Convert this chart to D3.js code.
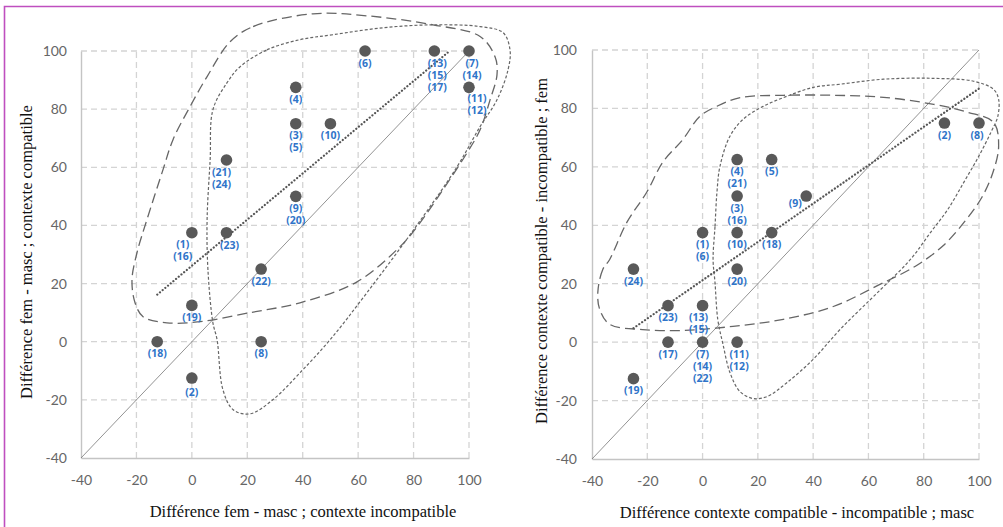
<!DOCTYPE html>
<html>
<head>
<meta charset="utf-8">
<script src="https://cdn.jsdelivr.net/npm/d3@7"></script>
<style>
body { margin: 0; background: #fff; }
svg { display: block; }
</style>
</head>
<body>
<svg id="chart" width="1003" height="527"></svg>
<script>
//tick values, same on every axis
var tickValues = [-40, -20, 0, 20, 40, 60, 80, 100];

//left panel : fem - masc
var leftX = [0, 0, 37.5, 37.5, 62.5, 25, 37.5, 50, 100, 87.5, 100, -12.5, 0, 12.5, 25, 12.5];
var leftY = [37.5, -12.5, 75, 87.5, 100, 0, 50, 75, 87.5, 100, 100, 0, 12.5, 62.5, 25, 37.5];
var leftLabels = [["(1)", "(16)"], ["(2)"], ["(3)", "(5)"], ["(4)"], ["(6)"], ["(8)"], ["(9)", "(20)"], ["(10)"],
    ["(11)", "(12)"], ["(13)", "(15)", "(17)"], ["(7)", "(14)"], ["(18)"], ["(19)"], ["(21)", "(24)"], ["(22)"], ["(23)"]];
var leftTrend = [[-12.5, 16.2], [93, 100]];
var leftLongLoop = [[13.8, 103.2], [22.1, 108.4], [43.7, 112.8], [63.2, 112.1], [87, 109], [104, 105], [109.4, 98],
    [110.1, 91.8], [107.6, 83.2], [104, 72.9], [99.3, 65], [90.6, 52.3], [81.3, 39.6], [75.1, 32.7], [59.6, 20.6],
    [39, 13.4], [21, 10], [2.9, 6.9], [-9, 6.5], [-17.6, 8.6], [-20.5, 13.4], [-21.6, 21.3], [-19.8, 30.6],
    [-16.2, 42], [-10.4, 59.2], [-6.8, 69.5], [-0.7, 80.8], [5.5, 91.2]];
var leftShortLoop = [[17.4, 94.6], [27.1, 100.4], [39, 103.9], [50.9, 105.6], [69, 108], [87, 109], [104, 108.4],
    [112.3, 106.3], [114.8, 100.4], [114.1, 93.6], [110.1, 83.2], [104, 74], [95.7, 60.2], [81.3, 40.2],
    [63.2, 16.9], [49.9, 0.7], [39, -10.7], [29.3, -19.9], [21, -24.8], [14.9, -23.4], [11.2, -16.5],
    [9.1, 0.7], [7.6, 6.5], [5.8, 24.8], [5.5, 42], [6.6, 62.6], [7.6, 79.8], [12.7, 89.1]];

//right panel : contexte compatible - incompatible
var rightX = [87.5, 100, 12.5, 25, 12.5, 37.5, 0, 12.5, 25, -25, 12.5, -12.5, 0, -12.5, 0, 12.5, -25];
var rightY = [75, 75, 62.5, 62.5, 50, 50, 37.5, 37.5, 37.5, 25, 25, 12.5, 12.5, 0, 0, 0, -12.5];
var rightLabels = [["(2)"], ["(8)"], ["(4)", "(21)"], ["(5)"], ["(3)", "(16)"], ["(9)"], ["(1)", "(6)"], ["(10)"],
    ["(18)"], ["(24)"], ["(20)"], ["(23)"], ["(13)", "(15)"], ["(17)"], ["(7)", "(14)", "(22)"], ["(11)", "(12)"], ["(19)"]];
var rightTrend = [[-25, 4.8], [100, 86.8]];
var rightLongLoop = [[-33.6, 28.3], [-36.1, 24.9], [-37.9, 17], [-37.2, 11.2], [-33.6, 6.1], [-21.7, 4.3],
    [-7.2, 4], [11, 5.4], [29.2, 7.8], [47.3, 12.2], [63.6, 19.5], [77, 26], [87, 33], [95, 41.5], [101, 49.5],
    [105, 58], [107.1, 67], [105.3, 75.2], [95.9, 78.7], [83.6, 81.4], [65.5, 83.8], [47.3, 84.5], [29.2, 84.5],
    [13.6, 83.7], [5.1, 80.7], [-1, 77.3], [-7.1, 69.4], [-14.4, 61.6], [-20.2, 51.3], [-27.4, 41]];
var rightShortLoop = [[3.8, 28.3], [4.5, 39.6], [5.2, 51.3], [6.3, 60.2], [9.9, 70.5], [14.7, 76.3], [21.9, 80.7],
    [30.6, 84.2], [40, 87.2], [49.8, 88.3], [65.4, 90], [83.5, 90.3], [98.1, 89.3], [105.3, 86.5], [107.1, 83.1],
    [106.8, 77.3], [104.3, 71.8], [99.9, 63.6], [94.5, 54.7], [88.7, 45.4], [82.5, 37.6], [75.2, 28.3],
    [64.4, 18], [49.8, 4.4], [40, -5.9], [30.6, -13.8], [23.4, -18.6], [18.3, -19.3], [13.5, -16.9],
    [9.9, -10.4], [7.4, -0.8], [5.5, 7.8], [4.5, 20.4]];

var svg = d3.select("#chart");

//white background
svg.append("rect")
    .attr("width", 1003)
    .attr("height", 527)
    .attr("fill", "#fff");

//frame around the figure (only top and left are visible)
svg.append("path")
    .attr("d", "M4.5,527 L4.5,6.5 L1003,6.5")
    .attr("fill", "none")
    .attr("stroke", "#bf4fbf")
    .attr("stroke-width", 1.6);

//draw one scatter panel
function drawPanel(cfg) {
    var g = svg.append("g");

    var x = d3.scaleLinear().domain([-40, 100]).range(cfg.xRange);
    var y = d3.scaleLinear().domain([-40, 100]).range(cfg.yRange);

    //dashed grid
    g.selectAll(".vgrid")
        .data(tickValues.slice(1))
        .enter().append("line")
        .attr("x1", function(d) { return x(d); })
        .attr("x2", function(d) { return x(d); })
        .attr("y1", y(-40))
        .attr("y2", y(100))
        .attr("stroke", "#d4d4d4")
        .attr("stroke-width", 1.3)
        .attr("stroke-dasharray", "6,4");

    g.selectAll(".hgrid")
        .data(tickValues.slice(1))
        .enter().append("line")
        .attr("x1", x(-40))
        .attr("x2", x(100))
        .attr("y1", function(d) { return y(d); })
        .attr("y2", function(d) { return y(d); })
        .attr("stroke", "#d4d4d4")
        .attr("stroke-width", 1.3)
        .attr("stroke-dasharray", "6,4");

    //axes, plain hyphen for negatives like the original
    var fmt = function(d) { return String(d); };
    var xAxis = d3.axisBottom(x).tickValues(tickValues).tickFormat(fmt).tickSize(0).tickPadding(17);
    var yAxis = d3.axisLeft(y).tickValues(tickValues).tickFormat(fmt).tickSize(0).tickPadding(cfg.yPad);

    var gx = g.append("g")
        .attr("transform", "translate(0," + y(-40) + ")")
        .call(xAxis);
    var gy = g.append("g")
        .attr("transform", "translate(" + x(-40) + ",0)")
        .call(yAxis);

    [gx, gy].forEach(function(a) {
        a.select(".domain").attr("stroke", "#c4c4c4").attr("stroke-width", 1.4);
        a.selectAll("text")
            .attr("fill", "#666")
            .style("font-family", "Lato, 'Open Sans', sans-serif")
            .style("font-size", "14px");
    });

    //diagonal y = x
    g.append("line")
        .attr("x1", x(-40)).attr("y1", y(-40))
        .attr("x2", x(100)).attr("y2", y(100))
        .attr("stroke", "#777")
        .attr("stroke-width", 0.8);

    var loop = d3.line()
        .x(function(d) { return x(d[0]); })
        .y(function(d) { return y(d[1]); })
        .curve(d3.curveCatmullRomClosed.alpha(0.5));

    //long dashed group
    g.append("path")
        .attr("d", loop(cfg.longLoop))
        .attr("fill", "none")
        .attr("stroke", "#666")
        .attr("stroke-width", 1.3)
        .attr("stroke-dasharray", "10,5");

    //short dashed group
    g.append("path")
        .attr("d", loop(cfg.shortLoop))
        .attr("fill", "none")
        .attr("stroke", "#666")
        .attr("stroke-width", 1.2)
        .attr("stroke-dasharray", "3,2");

    //dotted trend line
    g.append("line")
        .attr("x1", x(cfg.trend[0][0])).attr("y1", y(cfg.trend[0][1]))
        .attr("x2", x(cfg.trend[1][0])).attr("y2", y(cfg.trend[1][1]))
        .attr("stroke", "#555")
        .attr("stroke-width", 2.2)
        .attr("stroke-linecap", "round")
        .attr("stroke-dasharray", "0.1,3.4");

    //points
    var pts = cfg.xs.map(function(d, i) {
        return {x: d, y: cfg.ys[i], lab: cfg.labels[i]};
    });

    g.selectAll(".dot")
        .data(pts)
        .enter().append("circle")
        .attr("cx", function(d) { return x(d.x); })
        .attr("cy", function(d) { return y(d.y); })
        .attr("r", 5.8)
        .attr("fill", "#595959");

    //labels under the points
    var lab = g.selectAll(".lab")
        .data(pts)
        .enter().append("text")
        .attr("text-anchor", "middle")
        .attr("fill", "#2f74c9")
        .style("font-family", "'Open Sans', 'Noto Sans', sans-serif")
        .style("font-weight", "700")
        .style("font-size", "10.5px");

    lab.each(function(d) {
        var n = cfg.nudge[d.lab[0]] || [0, 0];
        var cx = x(d.x) + n[0];
        var cy = y(d.y) + 15.5 + n[1];
        var t = d3.select(this);
        d.lab.forEach(function(s, k) {
            t.append("tspan")
                .attr("x", cx)
                .attr("y", cy + k * 12)
                .text(s);
        });
    });

    //axis titles
    g.append("text")
        .attr("x", cfg.xTitlePos[0])
        .attr("y", cfg.xTitlePos[1])
        .attr("text-anchor", "middle")
        .style("font-family", "'Liberation Serif', 'Times New Roman', serif")
        .style("font-size", "16.5px")
        .attr("fill", "#111")
        .text(cfg.xTitle);

    g.append("text")
        .attr("transform", "translate(" + cfg.yTitlePos[0] + "," + cfg.yTitlePos[1] + ") rotate(-90)")
        .attr("text-anchor", "middle")
        .style("font-family", "'Liberation Serif', 'Times New Roman', serif")
        .style("font-size", "16.5px")
        .attr("fill", "#111")
        .text(cfg.yTitle);
}

drawPanel({
    xRange: [81, 469],
    yRange: [458, 51],
    yPad: 14,
    xs: leftX,
    ys: leftY,
    labels: leftLabels,
    nudge: {"(1)": [-9, 0], "(11)": [8, -1], "(13)": [3, 0], "(7)": [3, 0], "(21)": [-5, 0], "(23)": [3, 1], "(2)": [0, 2]},
    trend: leftTrend,
    longLoop: leftLongLoop,
    shortLoop: leftShortLoop,
    xTitle: "Différence fem - masc ; contexte incompatible",
    xTitlePos: [303, 517],
    yTitle: "Différence fem - masc ; contexte compatible",
    yTitlePos: [32, 252]
});

drawPanel({
    xRange: [592, 979],
    yRange: [459, 50],
    yPad: 15,
    xs: rightX,
    ys: rightY,
    labels: rightLabels,
    nudge: {"(9)": [-11, -5], "(13)": [-4, 0], "(11)": [2, 0], "(8)": [-2, 0]},
    trend: rightTrend,
    longLoop: rightLongLoop,
    shortLoop: rightShortLoop,
    xTitle: "Différence contexte compatible - incompatible ; masc",
    xTitlePos: [797, 518],
    yTitle: "Différence contexte compatible - incompatible ; fem",
    yTitlePos: [547, 251]
});
</script>
</body>
</html>
